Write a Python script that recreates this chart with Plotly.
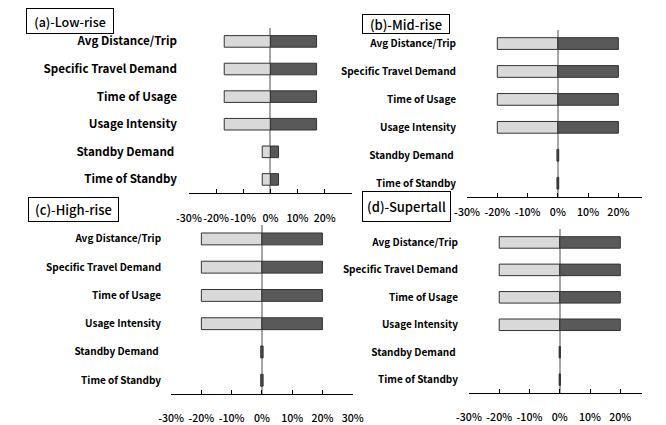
import plotly.graph_objects as go

W, H = 666, 425

# Sensitivity factors (top to bottom)
factors = ["Avg Distance/Trip", "Specific Travel Demand", "Time of Usage",
           "Usage Intensity", "Standby Demand", "Time of Standby"]
factor_labels = ["Avg Distance/Trip", "Specific Travel Demand", "Time of Usage",
                 "Usage Intensity", "Standby Demand\u00a0", "Time of Standby"]

# Change in result (%) for a -/+ change of each input, per building class
low_rise_neg = [-17, -17, -17, -17, -3, -3]
low_rise_pos = [17, 17, 17, 17, 3, 3]
mid_rise_neg = [-20, -20, -20, -20, -0.3, -0.3]
mid_rise_pos = [20, 20, 20, 20, 0.3, 0.3]
high_rise_neg = [-20, -20, -20, -20, -0.4, -0.4]
high_rise_pos = [20, 20, 20, 20, 0.4, 0.4]
supertall_neg = [-20, -20, -20, -20, -0.2, -0.2]
supertall_pos = [20, 20, 20, 20, 0.2, 0.2]

pct_ticks = [-30, -20, -10, 0, 10, 20, 30]
pct_labels = ["-30%", "-20%", "-10%", "0%", "10%", "20%", "30%"]

panel_titles = ["(a)-Low-rise", "(b)-Mid-rise", "(c)-High-rise", "(d)-Supertall"]

LIGHT = "#d9d9d9"
DARK = "#595959"
EDGE = "#333333"
FONT = "Noto Sans CJK KR"


def px_x(p):
    return p / W


def px_y(p):
    return 1 - p / H


# Panel geometry in pixels: x of -30%, pixels per 1%, right end of axis,
# top / bottom of plot area, label size and label offsets
panels = [
    dict(neg=low_rise_neg, pos=low_rise_pos, x0=182.5, ppu=2.817, xr=351.5,
         top=28, bot=196, lab=11.6, stand_y=15, stand_x=11),
    dict(neg=mid_rise_neg, pos=mid_rise_pos, x0=471, ppu=3.14, xr=652,
         top=30, bot=200, lab=10, stand_y=5, stand_x=10),
    dict(neg=high_rise_neg, pos=high_rise_pos, x0=164, ppu=3.14, xr=352.4,
         top=228, bot=400, lab=10, stand_y=14, stand_x=9),
    dict(neg=supertall_neg, pos=supertall_pos, x0=473, ppu=3.14, xr=652,
         top=232, bot=399, lab=10, stand_y=14, stand_x=10),
]

fig = go.Figure()
layout = {}
for i, p in enumerate(panels, start=1):
    xa = "x" if i == 1 else f"x{i}"
    ya = "y" if i == 1 else f"y{i}"
    for vals, col in ((p["neg"], LIGHT), (p["pos"], DARK)):
        fig.add_trace(go.Bar(
            x=vals, y=factors, orientation="h", xaxis=xa, yaxis=ya,
            width=0.42, marker=dict(color=col, line=dict(color=EDGE, width=1)),
            showlegend=False, hoverinfo="skip"))
    xmax = -30 + (p["xr"] - p["x0"]) / p["ppu"]
    layout[f"xaxis{'' if i == 1 else i}"] = dict(
        domain=[px_x(p["x0"]), px_x(p["xr"])], range=[-30, xmax], anchor=ya,
        tickvals=pct_ticks, ticktext=pct_labels, tickangle=0,
        showline=True, linecolor="black", linewidth=1,
        ticks="inside", ticklen=4, tickcolor="black", tickwidth=1,
        showgrid=False, zeroline=True, zerolinecolor="#a6a6a6", zerolinewidth=1.5,
        ticklabelstandoff=p["stand_y"],
        tickfont=dict(family=FONT, size=10.6, color="black", weight=500),
        fixedrange=True, layer="above traces")
    layout[f"yaxis{'' if i == 1 else i}"] = dict(
        domain=[px_y(p["bot"]), px_y(p["top"])], anchor=xa,
        type="category", categoryorder="array", categoryarray=factors,
        range=[5.5, -0.5], tickvals=factors, ticktext=factor_labels,
        showline=False, ticks="", showgrid=False, zeroline=False,
        ticklabelstandoff=p["stand_x"],
        tickfont=dict(family=FONT, size=p["lab"], color="black", weight="bold"),
        fixedrange=True)

# Boxed panel titles: left, top, right, bottom (px) and font size
title_boxes = [(13, 8, 101, 34, 12.5), (362, 14, 450, 34, 13),
               (16, 200, 107, 225, 13), (362, 194, 451, 225, 13)]
annotations = []
for text, (l, t, r, b, fs) in zip(panel_titles, title_boxes):
    annotations.append(dict(
        text=text, xref="paper", yref="paper", x=px_x(l), y=px_y(t),
        xanchor="left", yanchor="top", showarrow=False,
        width=r - l - 2, height=b - t - 2, align="center", valign="middle",
        borderpad=0, borderwidth=1, bordercolor="black", bgcolor="white",
        font=dict(family=FONT, size=fs, color="black", weight=500)))

fig.update_layout(
    width=W, height=H, autosize=False, margin=dict(l=0, r=0, t=0, b=0),
    paper_bgcolor="white", plot_bgcolor="white", barmode="overlay",
    annotations=annotations, **layout)

fig.write_html("out.html", config={"responsive": False})
